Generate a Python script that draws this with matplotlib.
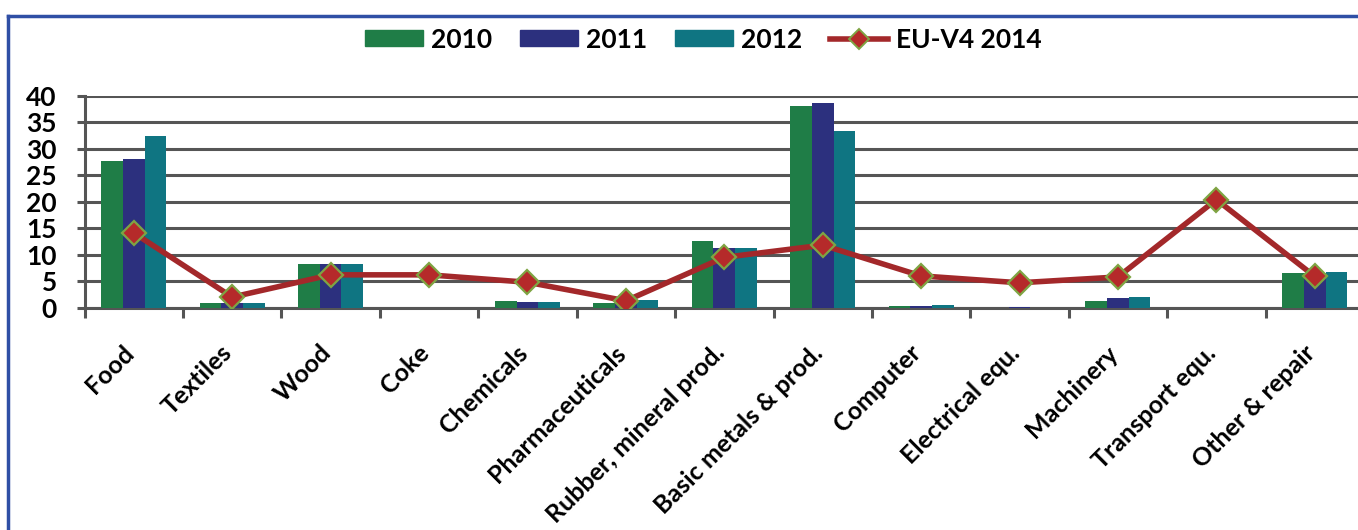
import numpy as np
import matplotlib
matplotlib.use("Agg")
import matplotlib.pyplot as plt
from matplotlib.lines import Line2D
from matplotlib.patches import Patch

plt.rcParams["font.family"] = ["Lato", "DejaVu Sans"]

CATEGORIES = ["Food", "Textiles", "Wood", "Coke", "Chemicals", "Pharmaceuticals",
              "Rubber, mineral prod.", "Basic metals & prod.", "Computer",
              "Electrical equ.", "Machinery", "Transport equ.", "Other & repair"]
V2010 = [27.6, 0.8, 8.3, 0.0, 1.2, 0.9, 12.6, 38.0, 0.3, 0.0, 1.3, 0.0, 6.6]
V2011 = [28.1, 0.8, 8.3, 0.0, 1.0, 1.0, 11.2, 38.6, 0.3, 0.2, 1.9, 0.0, 6.6]
V2012 = [32.4, 0.8, 8.3, 0.0, 1.0, 1.4, 11.2, 33.3, 0.5, 0.0, 2.1, 0.0, 6.8]
EU_V4_2014 = [14.1, 2.0, 6.2, 6.2, 4.8, 1.3, 9.5, 11.8, 6.0, 4.7, 5.8, 20.4, 5.9]
YTICKS = [0, 5, 10, 15, 20, 25, 30, 35, 40]

C2010, C2011, C2012 = "#1f7d47", "#2c307e", "#0f7582"
CLINE, CMARK, CEDGE = "#a3282a", "#b52a2a", "#7fa443"
GRID = "#555555"

fig = plt.figure(figsize=(13.58, 5.30), dpi=100)
ax = fig.add_axes([84.6 / 1358, 222.3 / 530, 1279.4 / 1358, 212.0 / 530])

x = np.arange(len(CATEGORIES))
w = 0.22
ax.bar(x - w, V2010, w, color=C2010, zorder=3)
ax.bar(x, V2011, w, color=C2011, zorder=3)
ax.bar(x + w, V2012, w, color=C2012, zorder=3)
ax.plot(x, EU_V4_2014, color=CLINE, lw=4.0, marker="D", ms=12,
        mfc=CMARK, mec=CEDGE, mew=1.6, zorder=4)

ax.set_xlim(-0.5, len(CATEGORIES) - 0.5)
ax.set_ylim(0, 40)
ax.set_yticks(YTICKS)
ax.yaxis.grid(True, color=GRID, lw=2.2, zorder=0)
ax.tick_params(axis="y", length=6, width=2.2, color=GRID, pad=14, labelsize=19)
for t in ax.get_yticklabels():
    t.set_fontweight("bold")

# label anchors sit a little left of the category centre, as in the original
ax.set_xticks(x - 0.12)
ax.set_xticklabels(CATEGORIES, rotation=45, ha="right", va="top",
                   rotation_mode="anchor", fontsize=18, fontweight="bold")
ax.set_xticks(np.arange(-0.5, len(CATEGORIES)), minor=True)
ax.tick_params(axis="x", which="major", length=0, pad=24)
ax.tick_params(axis="x", which="minor", length=7, width=2.2, color=GRID)
for s in ["top", "right"]:
    ax.spines[s].set_visible(False)
for s in ["left", "bottom"]:
    ax.spines[s].set_color(GRID)
    ax.spines[s].set_linewidth(2.2)

handles = [Patch(color=C2010, label="2010"), Patch(color=C2011, label="2011"),
           Patch(color=C2012, label="2012"),
           Line2D([], [], color=CLINE, lw=4.0, marker="D", ms=10, mfc=CMARK,
                  mec=CEDGE, mew=1.4, label="EU-V4 2014")]
fig.legend(handles=handles, loc="center", bbox_to_anchor=(0.518, 0.925), ncol=4,
           frameon=False, prop={"size": 19, "weight": "bold"}, handlelength=2.2,
           handleheight=0.55, handletextpad=0.3, columnspacing=1.05)

# blue frame of the original figure (top and left edges)
fig.add_artist(Line2D([8 / 1358, 1.0], [1 - 16 / 530, 1 - 16 / 530],
                      transform=fig.transFigure, color="#2f4fa5", lw=2.5))
fig.add_artist(Line2D([8 / 1358, 8 / 1358], [0.0, 1 - 16 / 530],
                      transform=fig.transFigure, color="#2f4fa5", lw=2.5))

fig.savefig("out.png", dpi=100)
